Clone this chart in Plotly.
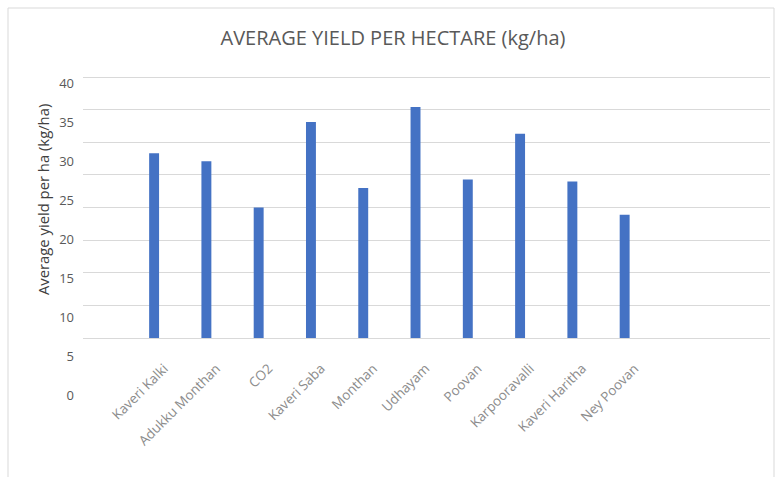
import plotly.graph_objects as go

# Banana cultivars and their average yield per hectare (kg/ha)
cultivars = ["Kaveri Kalki", "Adukku Monthan", "CO2", "Kaveri Saba", "Monthan",
             "Udhayam", "Poovan", "Karpooravalli", "Kaveri Haritha", "Ney Poovan"]
yield_kg_ha = [28.3, 27.1, 20.0, 33.1, 23.0, 35.4, 24.3, 31.3, 24.0, 18.9]

# Value scale printed beside the plot
scale_ticks = [0, 5, 10, 15, 20, 25, 30, 35, 40]
scale_labels = ["0", "5", "10", "15", "20", "25", "30", "35", "40"]

FONT = "Open Sans"
BAR_BLUE = "#4472C4"
GRID = "#d9d9d9"

fig = go.Figure()
fig.add_trace(go.Bar(
    x=cultivars, y=yield_kg_ha,
    marker=dict(color=BAR_BLUE, line=dict(width=0)),
    width=0.19, showlegend=False, hoverinfo="x+y",
    xaxis="x", yaxis="y",
))
# Invisible carrier so the scale axis gets rendered
fig.add_trace(go.Scatter(
    x=[0.5] * len(scale_ticks), y=scale_ticks, mode="markers",
    marker=dict(opacity=0), showlegend=False, hoverinfo="skip",
    xaxis="x2", yaxis="y2",
))

W, H = 779, 477
TOP, BOTTOM = 75, 400          # paper band in pixels
PH = BOTTOM - TOP
fig.update_layout(
    width=W, height=H,
    margin=dict(l=83, r=9, t=TOP, b=H - BOTTOM, pad=0),
    paper_bgcolor="white", plot_bgcolor="rgba(0,0,0,0)",
    font=dict(family=FONT, color="#595959"),
    title=dict(text="AVERAGE YIELD PER HECTARE (kg/ha)",
               font=dict(family=FONT, size=20, color="#595959"),
               x=0.5045, xref="container", xanchor="center",
               y=1 - 38 / H, yref="container", yanchor="middle"),
    xaxis=dict(
        type="category", range=[-1.36, 11.78], domain=[0, 1],
        anchor="y", showgrid=False, zeroline=False, showline=False,
        ticks="", tickangle=-45, ticklabelshift=10, ticklabelstandoff=19,
        tickfont=dict(family=FONT, size=13.5, color="#8c8c8c"),
    ),
    yaxis=dict(
        domain=[(BOTTOM - 338) / PH, 1], range=[0, 40.31], tickvals=scale_ticks,
        showgrid=True, gridcolor=GRID, gridwidth=1,
        zeroline=True, zerolinecolor=GRID, zerolinewidth=1,
        showline=False, showticklabels=False, ticks="",
    ),
    # Separate axis carrying the printed value scale
    xaxis2=dict(domain=[0, 1], anchor="y2", visible=False, range=[0, 1]),
    yaxis2=dict(
        domain=[0, 1], anchor="x2", range=[-0.64, 41.03],
        tickvals=scale_ticks, ticktext=scale_labels,
        showgrid=False, zeroline=False, showline=False, ticks="",
        ticklabelstandoff=8,
        tickfont=dict(family=FONT, size=13, color="#595959"),
    ),
    annotations=[dict(
        text="Average yield per ha (kg/ha)", textangle=-90,
        xref="paper", yref="paper", x=(43 - 83) / 687, y=(BOTTOM - 200) / PH,
        xanchor="center", yanchor="middle", showarrow=False,
        font=dict(family=FONT, size=14.8, color="#404040"),
    )],
    shapes=[dict(
        type="rect", xref="paper", yref="paper",
        x0=(8 - 83) / 687, x1=(774 - 83) / 687,
        y0=(BOTTOM - 490) / PH, y1=(BOTTOM - 8) / PH,
        line=dict(color=GRID, width=1), fillcolor="rgba(0,0,0,0)", layer="below",
    )],
)

fig.write_html("out.html")
